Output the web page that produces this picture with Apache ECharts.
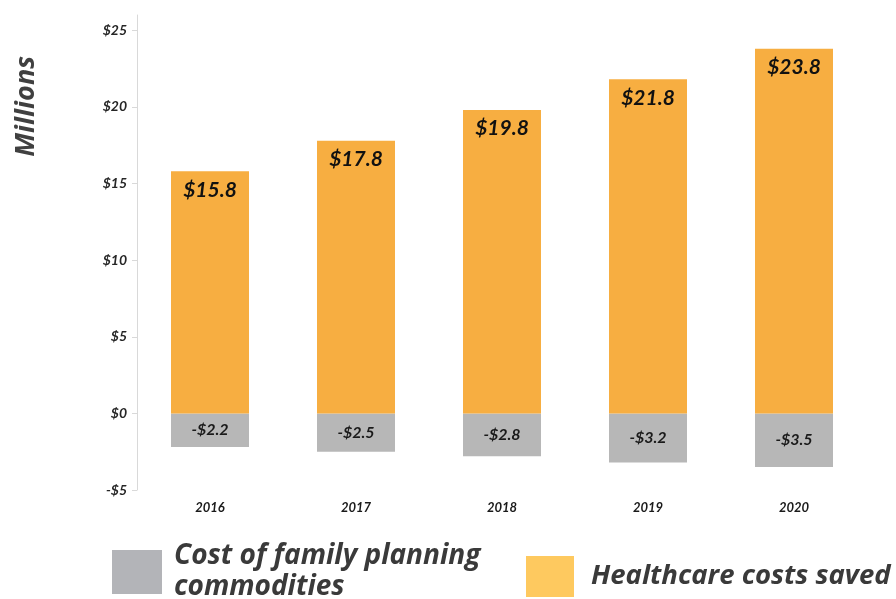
<!DOCTYPE html>
<html><head><meta charset="utf-8">
<script src="https://cdn.jsdelivr.net/npm/echarts@6/dist/echarts.min.js"></script>
<style>html,body{margin:0;padding:0;background:#fff}#c{width:896px;height:599px}</style>
</head><body><div id="c"></div>
<script>
const years = ['2016','2017','2018','2019','2020'];
const costValues = [-2.2, -2.5, -2.8, -3.2, -3.5];
const savedValues = [15.8, 17.8, 19.8, 21.8, 23.8];
const yTicks = [-5, 0, 5, 10, 15, 20, 25];
const costName = 'Cost of family planning\ncommodities';
const savedName = 'Healthcare costs saved';

const font = 'Lato, "Open Sans", sans-serif';
const chart = echarts.init(document.getElementById('c'));
chart.setOption({
  animation: false,
  grid: {left: 137, right: 29, top: 15, bottom: 109},
  graphic: [{
    type: 'text', left: 13, top: 56, rotation: Math.PI/2,
    style: {text: 'Millions', font: 'italic bold 27px "Open Sans", sans-serif', fill: '#404040'}
  }],
  legend: [{
    left: 107, top: 536, itemWidth: 50, itemHeight: 44, icon: 'rect',
    data: [{name: costName, itemStyle: {color: '#B3B4B8'}}],
    textStyle: {fontFamily: '"Open Sans", sans-serif', fontSize: 28, fontWeight: 'bold', fontStyle: 'italic', color: '#3a3a3a', lineHeight: 31, padding: [0,0,0,7]}
  },{
    left: 521, top: 551, itemWidth: 48, itemHeight: 41, icon: 'rect',
    data: [{name: savedName, itemStyle: {color: '#FEC95F'}}],
    textStyle: {fontFamily: '"Open Sans", sans-serif', fontSize: 27.5, fontWeight: 'bold', fontStyle: 'italic', color: '#3a3a3a', padding: [0,0,0,12]}
  }],
  xAxis: {
    type: 'category', data: years,
    axisLine: {show: false}, axisTick: {show: false},
    axisLabel: {margin: 11, fontFamily: font, fontSize: 13, fontWeight: 'bold', fontStyle: 'italic', color: '#1a1a1a'}
  },
  yAxis: {
    type: 'value', min: -5, max: 26, interval: 5,
    splitLine: {show: false},
    axisLine: {show: true, lineStyle: {color: '#d9d9d9'}},
    axisTick: {show: true, length: 5, lineStyle: {color: '#d9d9d9'}, customValues: yTicks},
    axisLabel: {margin: 10, customValues: yTicks, formatter: v => (v < 0 ? '-$' + Math.abs(v) : '$' + v),
      fontFamily: font, fontSize: 14, fontWeight: 'bold', fontStyle: 'italic', color: '#262626'}
  },
  series: [{
    name: costName, type: 'bar', stack: 's', data: costValues, barWidth: 78,
    itemStyle: {color: '#B7B7B7'},
    label: {show: true, position: 'inside', formatter: p => '-$' + Math.abs(p.value).toFixed(1),
      fontFamily: font, fontSize: 16, fontWeight: 'bold', fontStyle: 'italic', color: '#1a1a1a'}
  },{
    name: savedName, type: 'bar', stack: 's', data: savedValues, barWidth: 78,
    itemStyle: {color: '#F7AE41'},
    label: {show: true, position: 'insideTop', distance: 8, formatter: p => '$' + p.value.toFixed(1),
      fontFamily: font, fontSize: 21, fontWeight: 'bold', fontStyle: 'italic', color: '#111'}
  }]
});
</script></body></html>
